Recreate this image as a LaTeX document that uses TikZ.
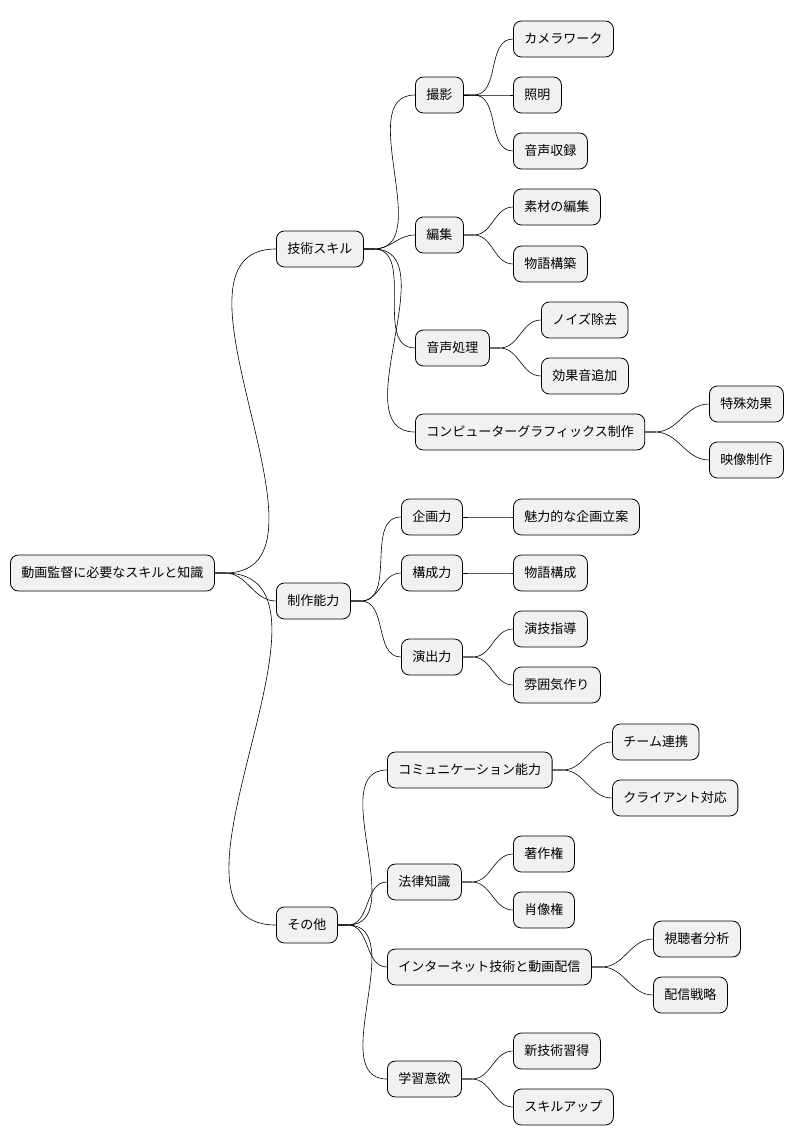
\documentclass[tikz,border=0pt]{standalone}
\usepackage{fontspec}
\setmainfont{Noto Sans CJK JP}
\usetikzlibrary{positioning}
\definecolor{boxfill}{HTML}{F1F1F1}

\begin{document}
\begin{tikzpicture}[
    x=1pt,y=-1pt,
    topic/.style={draw,rounded corners=8pt,fill=boxfill,anchor=west,minimum height=36pt,
      inner xsep=11pt,font=\fontsize{13}{14}\selectfont,line width=0.8pt},
    link/.style={line width=0.6pt}
    ]
    \useasboundingbox (0,0) rectangle (796,1146);
    % root and main branches
    \node[topic] (root) at (10,573) {動画監督に必要なスキルと知識};
    \node[topic] (tech) at (276,249) {技術スキル};
    \node[topic] (prod) at (276,601) {制作能力};
    \node[topic] (other) at (276,925) {その他};
    % technical skills
    \node[topic] (shoot) at (415,95) {撮影};
    \node[topic] (cam) at (513,39) {カメラワーク};
    \node[topic] (light) at (513,95) {照明};
    \node[topic] (rec) at (513,151) {音声収録};
    \node[topic] (edit) at (415,235) {編集};
    \node[topic] (mat) at (513,207) {素材の編集};
    \node[topic] (story) at (513,264) {物語構築};
    \node[topic] (audio) at (415,348) {音声処理};
    \node[topic] (noise) at (541,320) {ノイズ除去};
    \node[topic] (sfx) at (541,376) {効果音追加};
    \node[topic] (cg) at (415,432) {コンピューターグラフィックス制作};
    \node[topic] (vfx) at (709,404) {特殊効果};
    \node[topic] (movie) at (709,460) {映像制作};
    % production
    \node[topic] (plan) at (401,517) {企画力};
    \node[topic] (idea) at (513,517) {魅力的な企画立案};
    \node[topic] (comp) at (401,573) {構成力};
    \node[topic] (plot) at (513,573) {物語構成};
    \node[topic] (dir) at (401,657) {演出力};
    \node[topic] (act) at (513,629) {演技指導};
    \node[topic] (mood) at (513,685) {雰囲気作り};
    % others
    \node[topic] (talk) at (387,770) {コミュニケーション能力};
    \node[topic] (team) at (612,742) {チーム連携};
    \node[topic] (client) at (612,798) {クライアント対応};
    \node[topic] (law) at (387,882) {法律知識};
    \node[topic] (copy) at (513,854) {著作権};
    \node[topic] (portrait) at (513,910) {肖像権};
    \node[topic] (net) at (387,967) {インターネット技術と動画配信};
    \node[topic] (viewer) at (653,939) {視聴者分析};
    \node[topic] (strat) at (653,995) {配信戦略};
    \node[topic] (learn) at (387,1079) {学習意欲};
    \node[topic] (newtech) at (513,1051) {新技術習得};
    \node[topic] (skillup) at (513,1107) {スキルアップ};
    % connectors
    \foreach \p/\c in {root/tech,root/prod,root/other,
        tech/shoot,tech/edit,tech/audio,tech/cg,
        shoot/cam,shoot/light,shoot/rec,edit/mat,edit/story,
        audio/noise,audio/sfx,cg/vfx,cg/movie,
        prod/plan,prod/comp,prod/dir,plan/idea,comp/plot,dir/act,dir/mood,
        other/talk,other/law,other/net,other/learn,
        talk/team,talk/client,law/copy,law/portrait,
        net/viewer,net/strat,learn/newtech,learn/skillup}
    {\draw[link] (\p.east) -- ++(10,0) to[out=0,in=180] (\c.west);}
\end{tikzpicture}
\end{document}
